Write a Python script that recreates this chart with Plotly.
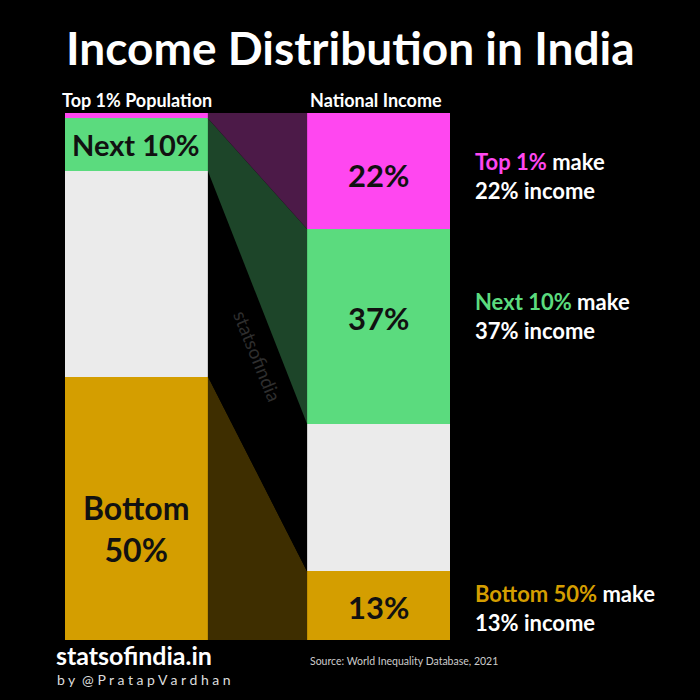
import plotly.graph_objects as go

groups = ["Bottom 50%", "Middle 40%", "Next 10%", "Top 1%"]
population = [50, 39, 10, 1]
income = [13, 28, 37, 22]
colors = ["#D49E00", "#EBEBEB", "#5BDB7E", "#FF47F0"]
link_colors = ["#3E2E00", "#000000", "#1D4529", "#4C1A48"]
bar_names = ["Top 1% Population", "National Income"]
title = "Income Distribution in India"
source = "Source: World Inequality Database, 2021"

BW = 0.59
FONT = "Lato"
W, H = 700, 700
ML, MR, MT, MB = 65, 250, 113, 60
fig = go.Figure()

for i, g in enumerate(groups):
    fig.add_trace(go.Bar(x=[0, 1], y=[population[i], income[i]], width=BW,
                         marker=dict(color=colors[i], line=dict(width=0)),
                         name=g, showlegend=False, hoverinfo="skip"))

cl, cr = 0, 0
for i, g in enumerate(groups):
    lo_l, hi_l = cl, cl + population[i]
    lo_r, hi_r = cr, cr + income[i]
    cl, cr = hi_l, hi_r
    xl, xr = BW / 2, 1 - BW / 2
    fig.add_trace(go.Scatter(x=[xl, xr, xr, xl, xl], y=[lo_l, lo_r, hi_r, hi_l, lo_l],
                             mode="lines", fill="toself", fillcolor=link_colors[i],
                             line=dict(width=0), showlegend=False, hoverinfo="skip"))

def mid(vals, i):
    return sum(vals[:i]) + vals[i] / 2

plot_h = H - MT - MB
plot_w = W - ML - MR
def py(pix):
    return (H - MB - pix) / plot_h
def px(pix):
    return (pix - ML) / plot_w

ann = []
ann.append(dict(x=0, y=mid(population, 2), text="<b>Next 10%</b>", showarrow=False,
                font=dict(size=29, color="#111", family=FONT)))
ann.append(dict(x=0, y=mid(population, 0), yshift=-20, text="<b>Bottom<br>50%</b>", showarrow=False,
                font=dict(size=32, color="#111", family=FONT)))
pct_shift = {3: -4, 2: 8, 0: -1}
for i in [3, 2, 0]:
    ann.append(dict(x=1, y=mid(income, i), yshift=pct_shift[i], text="<b>%d%%</b>" % income[i], showarrow=False,
                    font=dict(size=31, color="#111", family=FONT)))

side = {3: "Top 1%", 2: "Next 10%", 0: "Bottom 50%"}
side_shift = {3: -5, 2: 10, 0: -2}
for i, lab in side.items():
    ann.append(dict(x=px(473), xref="paper", y=mid(income, i), yshift=side_shift[i], xanchor="left",
                    align="left", showarrow=False,
                    text="<b><span style='color:%s'>%s</span> make<br>%d%% income</b>" % (colors[i], lab, income[i]),
                    font=dict(size=22, color="white", family=FONT)))

ann.append(dict(x=px(60), xref="paper", xanchor="left", y=py(100), yref="paper", yanchor="middle",
                text="<b>%s</b>" % bar_names[0],
                showarrow=False, font=dict(size=18, color="white", family=FONT)))
ann.append(dict(x=px(308), xref="paper", xanchor="left", y=py(100), yref="paper", yanchor="middle",
                text="<b>%s</b>" % bar_names[1],
                showarrow=False, font=dict(size=18, color="white", family=FONT)))

ann.append(dict(x=0.5, y=54, text="statsofindia", textangle=68, showarrow=False,
                font=dict(size=19, color="#2e2e2e", family=FONT)))

ann.append(dict(x=px(350), xref="paper", xanchor="center", y=py(47), yref="paper", yanchor="middle",
                text="<b>%s</b>" % title, showarrow=False,
                font=dict(size=46, color="white", family=FONT)))
ann.append(dict(x=px(54), y=py(655), xref="paper", yref="paper", xanchor="left", yanchor="middle",
                text="<b>statsofindia.in</b>", showarrow=False,
                font=dict(size=25, color="white", family=FONT)))
ann.append(dict(x=px(55), y=py(679), xref="paper", yref="paper", xanchor="left", yanchor="middle",
                text="b y  @ P r a t a p V a r d h a n", showarrow=False,
                font=dict(size=14, color="#dddddd", family=FONT)))
ann.append(dict(x=px(308), y=py(661), xref="paper", yref="paper", xanchor="left", yanchor="middle",
                text=source, showarrow=False,
                font=dict(size=10.5, color="#cccccc", family=FONT)))

fig.update_layout(
    annotations=ann,
    width=W, height=H,
    paper_bgcolor="black", plot_bgcolor="black",
    barmode="stack", bargap=0,
    margin=dict(l=ML, r=MR, t=MT, b=MB),
    xaxis=dict(range=[-BW / 2, 1 + BW / 2], visible=False, fixedrange=True),
    yaxis=dict(range=[0, 100], visible=False, fixedrange=True),
    showlegend=False,
)

fig.write_html("out.html", config={"displayModeBar": False},
               post_script="document.body.style.margin='0';document.body.style.background='black';")
